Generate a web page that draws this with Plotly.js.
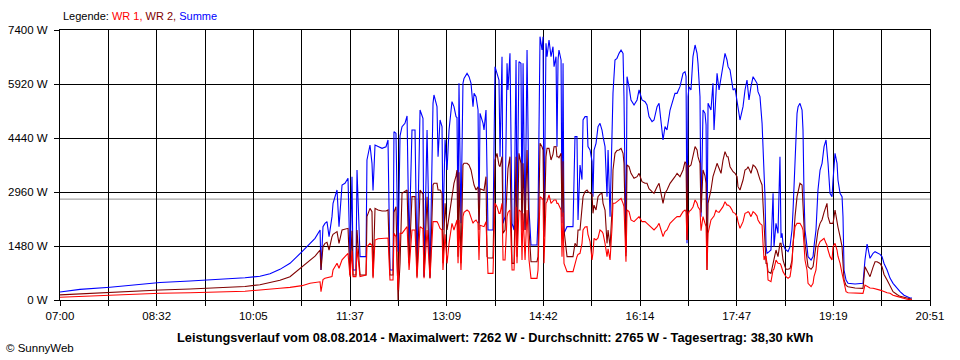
<!DOCTYPE html>
<html><head><meta charset="utf-8">
<script src="https://cdn.plot.ly/plotly-3.0.1.min.js"></script>
<style>html,body{margin:0;padding:0;background:#fff}#chart{width:960px;height:360px}</style>
</head><body><div id="chart"></div>
<script>
// minutes after 07:00
const minutes = [0,19.1,47.8,76.4,95.5,124.2,152.8,176.7,191.0,200.6,210.1,219.7,231.2,238.8,243.6,248.4,249.3,251.2,253.1,255.0,257.0,259.8,260.8,264.6,266.5,269.4,272.2,275.1,277.0,278.9,279.9,282.7,283.7,286.6,292.3,293.2,296.1,298.0,299.0,300.9,303.8,307.6,311.4,313.3,315.2,318.1,319.0,320.9,322.9,324.8,326.7,329.5,331.5,333.4,336.2,339.1,341.0,343.9,346.7,347.7,350.6,353.4,356.3,357.2,360.1,361.1,363.0,364.9,365.8,367.8,369.7,371.6,374.4,376.3,378.3,379.2,380.2,381.1,383.0,384.9,385.9,388.8,390.7,392.6,394.5,395.5,397.4,399.3,400.2,401.2,404.1,405.0,406.9,407.9,408.8,413.6,415.5,417.4,419.3,420.3,422.2,423.2,425.1,427.0,427.9,429.8,431.8,433.7,435.6,436.5,438.4,440.3,441.3,442.3,444.2,446.1,448.0,449.9,455.6,456.6,458.5,460.4,461.4,462.3,464.2,465.2,467.1,469.0,470.9,471.9,473.8,474.7,475.7,476.6,478.6,479.5,480.5,481.4,484.3,490.0,491.9,493.8,494.8,496.7,498.6,499.6,501.5,503.4,504.3,506.3,508.2,509.1,510.1,512.0,513.9,515.8,517.7,518.7,520.6,522.5,523.5,525.4,527.3,528.2,530.1,532.0,534.0,535.9,537.8,538.7,540.6,541.6,543.5,545.4,548.3,551.2,553.1,555.9,558.8,560.7,562.6,565.5,567.4,570.3,572.2,574.1,576.0,577.9,579.8,582.7,585.5,587.4,589.4,592.2,595.1,597.0,598.0,598.9,599.9,600.8,602.7,604.6,606.6,608.5,609.4,611.3,612.3,614.2,616.1,617.1,618.0,619.0,621.8,623.7,624.7,626.6,627.6,629.5,631.4,633.3,635.2,637.1,638.1,640.0,641.9,642.9,644.8,646.7,647.6,649.5,652.4,654.3,656.2,657.2,658.1,660.0,662.0,663.9,665.8,666.7,668.6,670.6,671.5,672.5,673.4,674.4,675.3,676.3,679.1,681.1,682.0,683.9,685.8,687.7,688.7,689.7,690.6,692.5,693.5,695.4,697.3,699.2,700.2,702.1,704.0,705.0,706.8,708.8,709.7,710.7,711.6,713.5,714.5,717.4,719.3,720.2,722.1,724.0,726.0,727.9,729.8,731.7,732.6,733.6,735.5,737.4,738.4,740.3,742.2,743.1,745.1,747.0,747.9,748.9,750.8,752.7,759.4,767.0,768.9,770.9,773.7,776.6,778.5,780.4,783.3,785.2,787.1,790.0,792.8,795.7,799.5,802.4,806.2,809.1,811.9,813.8];

const summe = [220,290,350,420,480,520,560,610,650,720,840,1005,1325,1553,1690,1919,822,2010,2100,2147,1736,2284,2650,3015,2010,3150,3200,3335,1096,3380,822,822,3563,1188,1188,3837,4248,3746,3000,4248,4200,4157,4200,4385,822,822,4614,4568,1325,4500,4751,4842,5043,1462,4659,4659,914,5207,4979,640,4659,640,5390,5619,5299,3928,4933,4751,1919,4400,3563,4659,5436,5299,5025,5000,2101,5938,2101,5938,6075,6212,6121,5938,5299,5664,5573,5207,2101,5116,4842,4659,5207,2924,1919,1919,6395,6212,6030,3928,6669,2101,2284,6486,5756,6760,2101,1919,6578,2101,6532,6486,2193,6486,1919,6852,2467,1507,1507,2284,7217,6852,7217,1736,7035,6669,7126,6669,6943,6395,6669,4203,6578,6852,6578,2101,6486,1827,2010,2010,4477,4477,2193,3700,3300,4933,5025,5025,4203,4111,3800,2832,4111,4294,4751,4842,4659,4477,4203,2832,4111,2284,5116,5664,6578,6624,6760,6852,6760,5573,1300,6121,5847,5482,5345,5482,5756,5482,5436,5345,5025,4888,4933,5299,5390,4933,4385,4751,4659,5207,5482,5664,5664,5847,6212,6258,6121,1553,5573,5847,5756,6669,6989,6760,6486,5573,2284,5207,5116,4800,1462,5390,5207,5938,4659,5938,6212,5756,6121,6395,6760,6578,6395,6304,5847,5756,5801,5390,5207,4933,5299,5756,6030,5800,5482,5847,6121,6030,5938,5710,5573,4842,4203,3746,2832,1462,1279,1300,1370,2924,1462,2101,1827,3928,1700,1827,1553,1400,1370,1325,1462,1919,2467,3928,5116,5299,5390,5207,4659,2832,1919,1462,1188,1096,1188,1462,1919,3015,3563,3746,4203,4385,4111,3746,2924,2832,3289,4020,3746,3289,2924,2832,2284,822,548,457,438,457,1100,1535,1142,1279,1325,1300,1250,1188,1000,822,600,457,320,228,130,91,55,55];

const wr2 = [140,170,220,260,275,300,330,370,420,470,540,640,914,1096,1200,1370,822,1460,1553,1580,1370,1736,1800,1873,1553,1919,1940,1964,685,1900,685,685,1919,685,685,2284,2512,2421,640,2512,2467,2440,2440,2467,685,685,2400,2558,0,1005,2924,2970,3015,1005,2832,2832,640,3015,2900,640,2832,594,3152,3200,3198,3015,3015,2924,1005,2650,1919,2283,2832,3198,3400,3563,1188,3500,1005,3700,3746,3746,3700,3563,3289,3152,3015,3106,1919,3050,3015,3000,3380,1188,1150,1150,3837,4020,3700,3654,3928,1827,1919,3380,3600,3928,1005,1005,3928,1188,4020,3746,1919,3746,1919,4111,1919,1050,1050,1188,4294,4200,4111,1736,3928,4157,4157,3837,4000,4200,4203,3928,3928,3900,4020,2284,3800,1919,1188,1188,1553,1462,1919,1919,2400,2832,2970,3015,2970,2924,2900,2375,2600,2467,2832,2900,2924,2649,2467,1553,1919,1462,2467,3563,4020,4100,4111,4157,4020,3746,1200,3700,3654,3472,3335,3380,3472,3243,3198,3198,3050,2969,2924,3106,3198,2924,2649,2924,3015,3198,3289,3380,3472,3380,3563,3791,3746,1644,3700,3654,3700,3928,4203,4111,3928,3746,2400,3563,3400,3200,822,2649,3015,3380,3500,3650,3746,3600,3472,3837,4066,3928,3928,3654,3563,3517,3472,3380,3106,3015,3289,3563,3600,3654,3600,3472,3700,3654,3563,3450,3300,3152,2649,1919,1736,1005,1005,777,731,1005,1100,1370,1188,1553,1553,1300,1096,914,841,841,860,1096,1553,2284,2832,3000,3198,3152,2284,2000,1553,1188,914,841,914,1096,1553,1900,2101,2200,2400,2600,2649,2284,2101,2101,2101,2467,2101,2000,1736,1462,1005,548,400,365,330,320,914,800,640,900,1050,1050,1000,914,700,548,400,228,150,100,73,50,30,20];

const wr1 = [75,100,130,160,185,200,215,240,275,290,320,347,393,457,480,500,228,560,594,610,620,640,822,1005,870,1100,1188,1279,640,1350,640,640,1416,640,685,1462,1553,1500,594,1644,1680,1690,1690,1700,548,548,1827,1736,274,1827,1827,1919,2010,822,1919,1919,594,2010,1950,594,1919,594,2147,2147,2147,2100,1964,1919,822,1800,1005,1553,2101,1919,2100,2193,1005,2193,822,2284,2400,2467,2421,2284,2101,2150,2193,2101,1096,2050,2010,2010,2147,1096,731,731,2650,2558,2375,2375,2649,1096,1096,2284,2400,2467,822,822,2558,1005,2467,2421,1096,2375,1096,2467,1096,594,594,822,2832,2786,2741,1005,2649,2700,2878,2650,2700,2741,2741,2649,2649,2600,2467,1188,2400,1005,777,777,1005,1188,1250,1279,1553,1919,2000,2010,1800,1600,1100,1300,1690,1644,1700,1919,1873,1827,1553,1188,1400,1096,2000,2650,2650,2695,2741,2786,2649,2558,1050,2467,2421,2193,2147,2238,2284,2147,2147,2101,2050,1964,1919,2010,2101,1919,1736,1873,1919,2101,2193,2238,2284,2284,2421,2467,2421,1644,2300,2421,2467,2550,2741,2650,2558,2467,1900,2284,2101,2010,822,1827,2193,2284,2300,2467,2421,2400,2467,2558,2695,2600,2600,2558,2467,2400,2375,2284,2150,1964,2147,2375,2400,2421,2400,2284,2421,2375,2300,2193,2101,2050,1553,1096,1188,1188,1005,548,502,822,850,1096,1005,1000,950,822,777,685,640,594,640,1005,1553,2010,2101,2101,2101,2000,1919,1500,1096,822,457,365,457,640,822,1462,1600,1644,1690,1553,1500,1370,1188,1100,1462,1553,1370,1200,1005,731,600,457,228,200,183,183,411,380,330,320,300,290,270,256,230,200,183,130,100,73,40,20,10,5];

const xTickLabels = ['07:00','08:32','10:05','11:37','13:09','14:42','16:14','17:47','19:19','20:51'];
const yTickValues = [0,1480,2960,4440,5920,7400];
const yTickLabels = ['0 W','1480 W','2960 W','4440 W','5920 W','7400 W'];
const dayMinutes = 831;       // 07:00 .. 20:51
const average = 2765;
const seriesNames = ['WR 1','WR 2','Summe'];
const titleText = 'Leistungsverlauf vom 08.08.2014 - Maximalwert: 7262 W - Durchschnitt: 2765 W - Tagesertrag: 38,30 kWh';
const copyrightText = '\u00a9 SunnyWeb';

const FONT = 'Liberation Sans, Arial, sans-serif';
const colors = {wr1:'#ff0000', wr2:'#800000', summe:'#0000ff'};

const gridVals = [], gridText = [];
for (let i = 0; i <= 18; i++) {
  gridVals.push(i * dayMinutes / 18);
  gridText.push(i % 2 === 0 ? xTickLabels[i / 2] : '');
}

const traces = [
  {x: minutes, y: summe, name: seriesNames[2], type: 'scatter', mode: 'lines', line: {color: colors.summe, width: 1.1}},
  {x: minutes, y: wr2, name: seriesNames[1], type: 'scatter', mode: 'lines', line: {color: colors.wr2, width: 1.1}},
  {x: minutes, y: wr1, name: seriesNames[0], type: 'scatter', mode: 'lines', line: {color: colors.wr1, width: 1.1}}
];

const layout = {
  width: 960, height: 360,
  margin: {l: 60, r: 30, t: 30, b: 60},
  paper_bgcolor: '#ffffff', plot_bgcolor: '#ffffff',
  showlegend: false,
  font: {family: FONT, size: 11, color: '#000'},
  xaxis: {
    range: [0, dayMinutes], tickmode: 'array', tickvals: gridVals, ticktext: gridText,
    showgrid: true, gridcolor: '#000', gridwidth: 1,
    ticks: 'outside', ticklen: 5, tickcolor: '#000', tickwidth: 1,
    showline: true, linecolor: '#000', linewidth: 1, mirror: true,
    zeroline: false, tickfont: {family: FONT, size: 11.5, color: '#000'}, fixedrange: true
  },
  yaxis: {
    range: [0, 7400], tickmode: 'array', tickvals: yTickValues, ticktext: yTickLabels,
    showgrid: true, gridcolor: '#000', gridwidth: 1,
    ticks: 'outside', ticklen: 5, tickcolor: '#000', tickwidth: 1,
    showline: true, linecolor: '#000', linewidth: 1, mirror: true, ticklabelstandoff: 4,
    zeroline: false, tickfont: {family: FONT, size: 11.5, color: '#000'}, fixedrange: true
  },
  shapes: [{type: 'line', xref: 'paper', x0: 0, x1: 1, yref: 'y', y0: average, y1: average,
            line: {color: '#909090', width: 1}, layer: 'below'}],
  annotations: [
    {xref: 'paper', yref: 'paper', x: 1/870, y: (300-16)/270, xanchor: 'left', yanchor: 'middle', showarrow: false,
     text: 'Legende: <span style="color:' + colors.wr1 + '">' + seriesNames[0] + ',</span> <span style="color:' + colors.wr2 + '">' + seriesNames[1] + ',</span> <span style="color:' + colors.summe + '">' + seriesNames[2] + '</span>',
     font: {family: FONT, size: 11, color: '#000'}},
    {xref: 'paper', yref: 'paper', x: (495-60)/870, y: (300-337)/270, xanchor: 'center', yanchor: 'middle', showarrow: false,
     text: '<b>' + titleText + '</b>', font: {family: FONT, size: 12.8, color: '#000'}},
    {xref: 'paper', yref: 'paper', x: (4-60)/870, y: (300-348)/270, xanchor: 'left', yanchor: 'middle', showarrow: false,
     text: copyrightText, font: {family: FONT, size: 11.5, color: '#000'}}
  ]
};

Plotly.newPlot('chart', traces, layout, {displayModeBar: false, staticPlot: true});
</script></body></html>
